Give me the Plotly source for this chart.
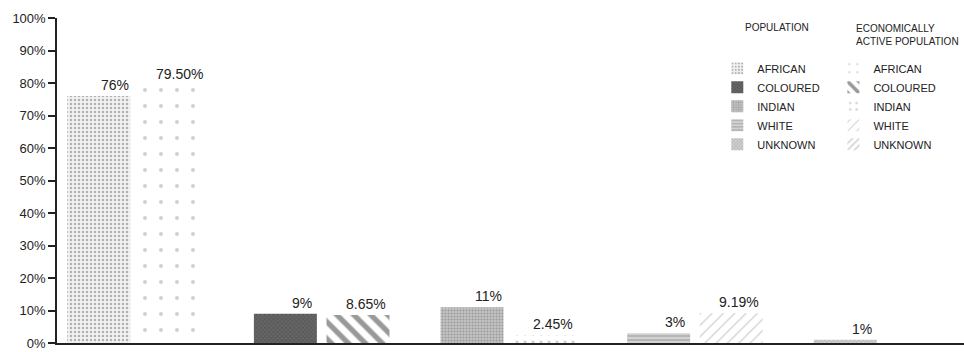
import plotly.graph_objects as go

# ---- data ----
categories = ["African", "Coloured", "Indian", "White", "Unknown"]
legend_names = ["AFRICAN", "COLOURED", "INDIAN", "WHITE", "UNKNOWN"]
population = [76, 9, 11, 3, 1]
econ_active = [79.50, 8.65, 2.45, 9.19, None]
pop_labels = ["76%", "9%", "11%", "3%", "1%"]
ea_labels = ["79.50%", "8.65%", "2.45%", "9.19%", ""]
y_tick_vals = [0, 10, 20, 30, 40, 50, 60, 70, 80, 90, 100]
y_tick_text = ["0%", "10%", "20%", "30%", "40%", "50%", "60%", "70%", "80%", "90%", "100%"]

FONT = "Liberation Sans, Arial, sans-serif"
INK = "#222222"

pop_styles = [
    dict(color="#f2f2f2", shape=".", fg="#6f6f6f", size=4, sol=0.3),
    dict(color="#666666", shape="x", fg="#3a3a3a", size=3, sol=0.35),
    dict(color="#c4c4c4", shape=".", fg="#707070", size=3, sol=0.4),
    dict(color="#d2d2d2", shape="-", fg="#8a8a8a", size=4, sol=0.4),
    dict(color="#cfcfcf", shape="x", fg="#888888", size=3, sol=0.3),
]
ea_styles = [
    dict(color="#ffffff", shape=".", fg="#a0a0a0", size=16, sol=0.05),
    dict(color="#ffffff", shape="\\", fg="#333333", size=12, sol=0.45),
    dict(color="#ffffff", shape=".", fg="#a0a0a0", size=8, sol=0.12),
    dict(color="#ffffff", shape="/", fg="#a0a0a0", size=8, sol=0.15),
    dict(color="#ffffff", shape="/", fg="#888888", size=6, sol=0.25),
]

BAR_W = 0.3375
POP_OFF = -0.365
EA_OFF = 0.024

fig = go.Figure()
for i, cat in enumerate(categories):
    s = pop_styles[i]
    fig.add_trace(go.Bar(
        x=[cat], y=[population[i]], name=legend_names[i],
        width=BAR_W, offset=POP_OFF, legend="legend",
        marker=dict(color=s["color"], line=dict(width=0),
                    pattern=dict(shape=s["shape"], fgcolor=s["fg"], size=s["size"],
                                 solidity=s["sol"], fillmode="overlay")),
        hoverinfo="skip",
    ))
for i, cat in enumerate(categories):
    s = ea_styles[i]
    fig.add_trace(go.Bar(
        x=[cat], y=[econ_active[i]], name=legend_names[i],
        width=BAR_W, offset=EA_OFF, legend="legend2",
        marker=dict(color=s["color"], line=dict(width=0),
                    pattern=dict(shape=s["shape"], fgcolor=s["fg"], size=s["size"],
                                 solidity=s["sol"], fillmode="overlay")),
        hoverinfo="skip",
    ))

annotations = []
for i, cat in enumerate(categories):
    if pop_labels[i]:
        annotations.append(dict(x=cat, y=population[i], xref="x", yref="y", text=pop_labels[i],
                                showarrow=False, xanchor="center", yanchor="bottom",
                                xshift=-20, yshift=1, font=dict(family=FONT, size=14, color=INK)))
    if ea_labels[i]:
        annotations.append(dict(x=cat, y=econ_active[i], xref="x", yref="y", text=ea_labels[i],
                                showarrow=False, xanchor="center", yanchor="bottom",
                                xshift=44, yshift=1, font=dict(family=FONT, size=14, color=INK)))

annotations.append(dict(x=0.756, y=0.972, xref="paper", yref="paper", text="POPULATION",
                        showarrow=False, xanchor="left", yanchor="middle",
                        font=dict(family=FONT, size=10, color=INK)))
annotations.append(dict(x=0.879, y=0.948, xref="paper", yref="paper",
                        text="ECONOMICALLY<br>ACTIVE POPULATION", align="left",
                        showarrow=False, xanchor="left", yanchor="middle",
                        font=dict(family=FONT, size=10, color=INK)))

fig.update_layout(
    width=964, height=352,
    margin=dict(l=57, r=0, t=18, b=9),
    paper_bgcolor="white", plot_bgcolor="white",
    barmode="overlay",
    font=dict(family=FONT, color=INK),
    annotations=annotations,
    legend=dict(x=0.728, y=0.89, xanchor="left", yanchor="top",
                bgcolor="rgba(0,0,0,0)", borderwidth=0, tracegroupgap=0,
                font=dict(family=FONT, size=11, color=INK)),
    legend2=dict(x=0.856, y=0.89, xanchor="left", yanchor="top",
                 bgcolor="rgba(0,0,0,0)", borderwidth=0, tracegroupgap=0,
                 font=dict(family=FONT, size=11, color=INK)),
    xaxis=dict(type="category", categoryorder="array", categoryarray=categories,
               range=[-0.42, 4.44], showticklabels=False, ticks="",
               showline=True, linecolor=INK, linewidth=1.5,
               showgrid=False, zeroline=False, fixedrange=True),
    yaxis=dict(range=[0, 100], tickmode="array", tickvals=y_tick_vals, ticktext=y_tick_text,
               ticks="outside", ticklen=7, tickwidth=1.5, tickcolor=INK,
               showline=True, linecolor=INK, linewidth=1.5,
               showgrid=False, zeroline=False, ticklabeloverflow="allow",
               tickfont=dict(family=FONT, size=13, color=INK)),
)

fig.write_html("out.html")
